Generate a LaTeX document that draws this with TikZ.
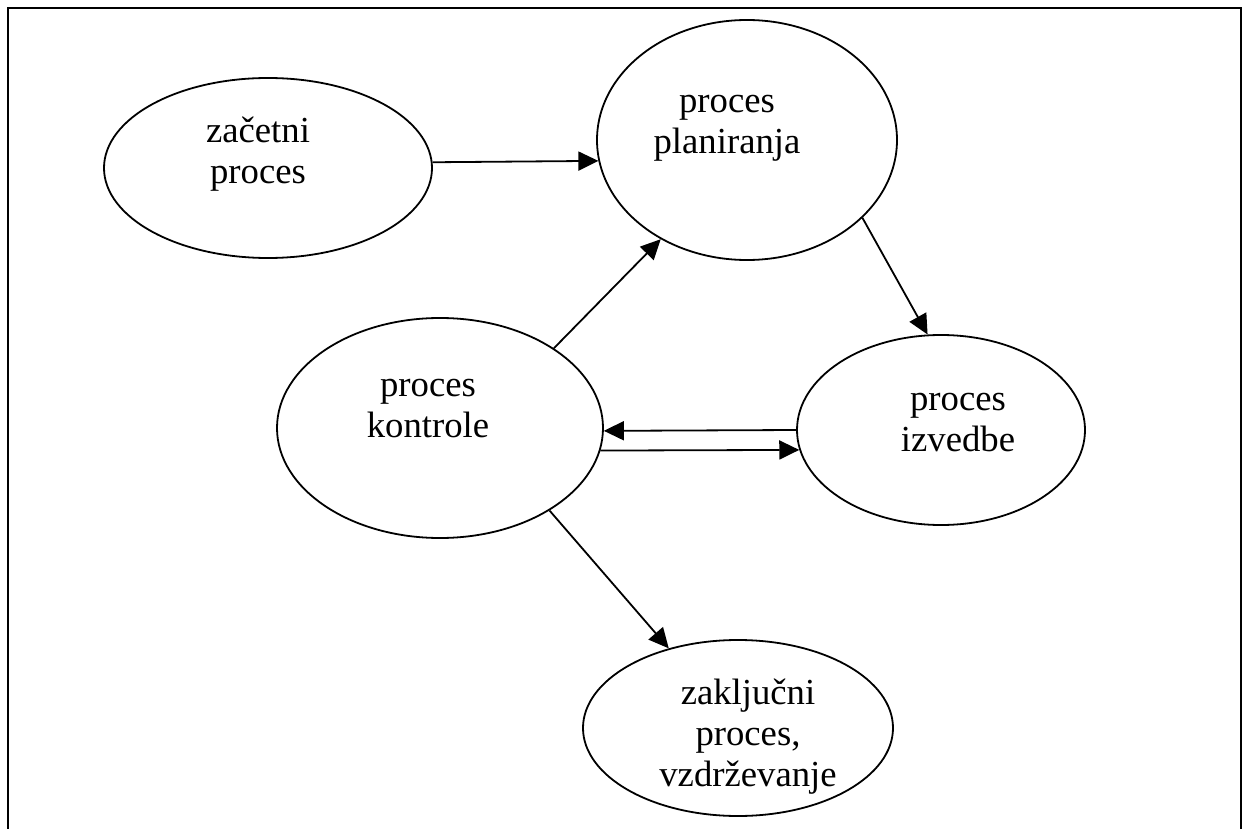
\documentclass[tikz,border=0pt]{standalone}
\usepackage{fontspec}
\setmainfont{Liberation Serif}
\usetikzlibrary{shapes.geometric,arrows.meta}
\begin{document}
\begin{tikzpicture}[x=1pt,y=-1pt,
  proc/.style={ellipse,draw,line width=1.8pt,inner sep=0pt},
  lbl/.style={align=center,inner sep=0pt,font=\fontsize{36.7}{41}\selectfont},
  arr/.style={line width=1.8pt,-{Triangle[length=20pt,width=19pt]}}]
\useasboundingbox (0,0) rectangle (1254,829);
% outer frame, open at the bottom
\draw[line width=2pt] (8,829) -- (8,8) -- (1241,8) -- (1241,829);
% process ellipses
\node[proc,minimum width=328pt,minimum height=180pt] (e1) at (268,168) {};
\node[proc,minimum width=300pt,minimum height=240pt] (e2) at (747,140) {};
\node[proc,minimum width=326pt,minimum height=220pt] (e3) at (440,428) {};
\node[proc,minimum width=288pt,minimum height=190pt] (e4) at (941,430) {};
\node[proc,minimum width=310pt,minimum height=176pt] (e5) at (738,728) {};
% labels
\node[lbl] (t1) at (258,155) {\strut začetni\\\strut proces};
\node[lbl] (t2) at (727,125) {\strut proces\\\strut planiranja};
\node[lbl] (t3) at (428,409) {\strut proces\\\strut kontrole};
\node[lbl] (t4) at (958,423) {\strut proces\\\strut izvedbe};
\node[lbl] (t5) at (748,737) {\strut zaključni\\\strut proces,\\\strut vzdrževanje};
% connectors
\draw[arr] (e1.2) -- (e2.188.6);
\draw[arr] (e3.35) -- (e2.229.7);
\draw[arr] (e2.326) -- (e4.98.8);
\draw[arr] (e4.180) -- (e3.359);
\draw[arr] (e3.352.1) -- (e4.188);
\draw[arr] (e3.323.3) -- (e5.131.6);
\end{tikzpicture}
\end{document}
